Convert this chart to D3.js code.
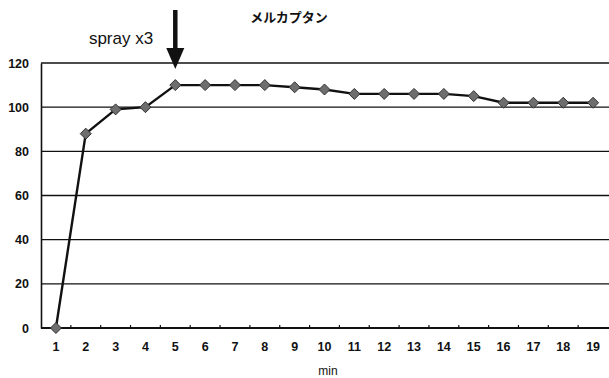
<!DOCTYPE html>
<html><head><meta charset="utf-8">
<script src="https://cdn.jsdelivr.net/npm/d3@7"></script>
<style>body{margin:0;background:#fff}svg{display:block}</style>
</head><body>
<svg id="c" width="609" height="378"></svg>
<script>
const categories = ["1","2","3","4","5","6","7","8","9","10","11","12","13","14","15","16","17","18","19"];
const values = [0,88,99,100,110,110,110,110,109,108,106,106,106,106,105,102,102,102,102];
const yTicks = [0,20,40,60,80,100,120];
const title = "メルカプタン";
const annotation = "spray x3";
const annotationAt = "5";
const xTitle = "min";

(function(){
const svg = d3.select("#c");
const mLeft = 41, mRight = 608, mTop = 63, mBottom = 328;
const x = d3.scaleBand().domain(categories).range([mLeft, mRight]);
const y = d3.scaleLinear().domain([0,120]).range([mBottom, mTop]);
const font = "'Liberation Sans', Arial, sans-serif";

// gridlines
svg.append("g").selectAll("line").data(yTicks.filter(d=>d>0)).join("line")
  .attr("x1", mLeft).attr("x2", 609).attr("y1", d=>y(d)).attr("y2", d=>y(d))
  .attr("stroke","#111").attr("stroke-width",1.4);

// y axis
const ya = svg.append("g").attr("transform",`translate(${mLeft},0)`)
  .call(d3.axisLeft(y).tickValues(yTicks).tickSize(0).tickPadding(12));
ya.select(".domain").attr("stroke","#111").attr("stroke-width",1.6);
ya.selectAll("text").attr("font-family",font).attr("font-size",12.5).attr("fill","#111").attr("font-weight","bold");

// x axis
const xa = svg.append("g").attr("transform",`translate(0,${mBottom})`)
  .call(d3.axisBottom(x).tickSize(0).tickPadding(14));
xa.select(".domain").remove();
svg.append("line").attr("x1",mLeft).attr("x2",609).attr("y1",mBottom).attr("y2",mBottom)
  .attr("stroke","#111").attr("stroke-width",2.2);
xa.selectAll("text").attr("font-family",font).attr("font-size",12.5).attr("fill","#111").attr("font-weight","bold");
// boundary ticks
svg.append("g").selectAll("line").data(categories.slice(1)).join("line")
  .attr("x1", d=>x(d)).attr("x2", d=>x(d)).attr("y1", mBottom-3).attr("y2", mBottom)
  .attr("stroke","#111").attr("stroke-width",1.2);

// line
const cx = d => x(d) + x.bandwidth()/2;
svg.append("path").datum(values)
  .attr("d", d3.line().x((d,i)=>cx(categories[i])).y(d=>y(d)))
  .attr("fill","none").attr("stroke","#111").attr("stroke-width",2.4);
svg.append("g").selectAll("path").data(values).join("path")
  .attr("transform",(d,i)=>`translate(${cx(categories[i])},${y(d)})`)
  .attr("d","M0,-5.5L5.5,0L0,5.5L-5.5,0Z")
  .attr("fill","#6e6e6e").attr("stroke","#333").attr("stroke-width",1);

// title
svg.append("text").attr("x",289).attr("y",22).attr("text-anchor","middle")
  .attr("font-family","'Noto Sans CJK JP', sans-serif").attr("font-size",13).attr("font-weight","bold")
  .attr("fill","#111").text(title);

// annotation
svg.append("text").attr("x",121).attr("y",44).attr("text-anchor","middle")
  .attr("font-family",font).attr("font-size",17).attr("fill","#111").text(annotation);
const ax = cx(annotationAt);
svg.append("line").attr("x1",ax).attr("x2",ax).attr("y1",10).attr("y2",50)
  .attr("stroke","#111").attr("stroke-width",4.5);
svg.append("path").attr("d",`M${ax-9},48L${ax+9},48L${ax},69Z`).attr("fill","#111");

// x title
svg.append("text").attr("x",328).attr("y",375).attr("text-anchor","middle")
  .attr("font-family",font).attr("font-size",12).attr("fill","#111").text(xTitle);
})();
</script>
</body></html>
